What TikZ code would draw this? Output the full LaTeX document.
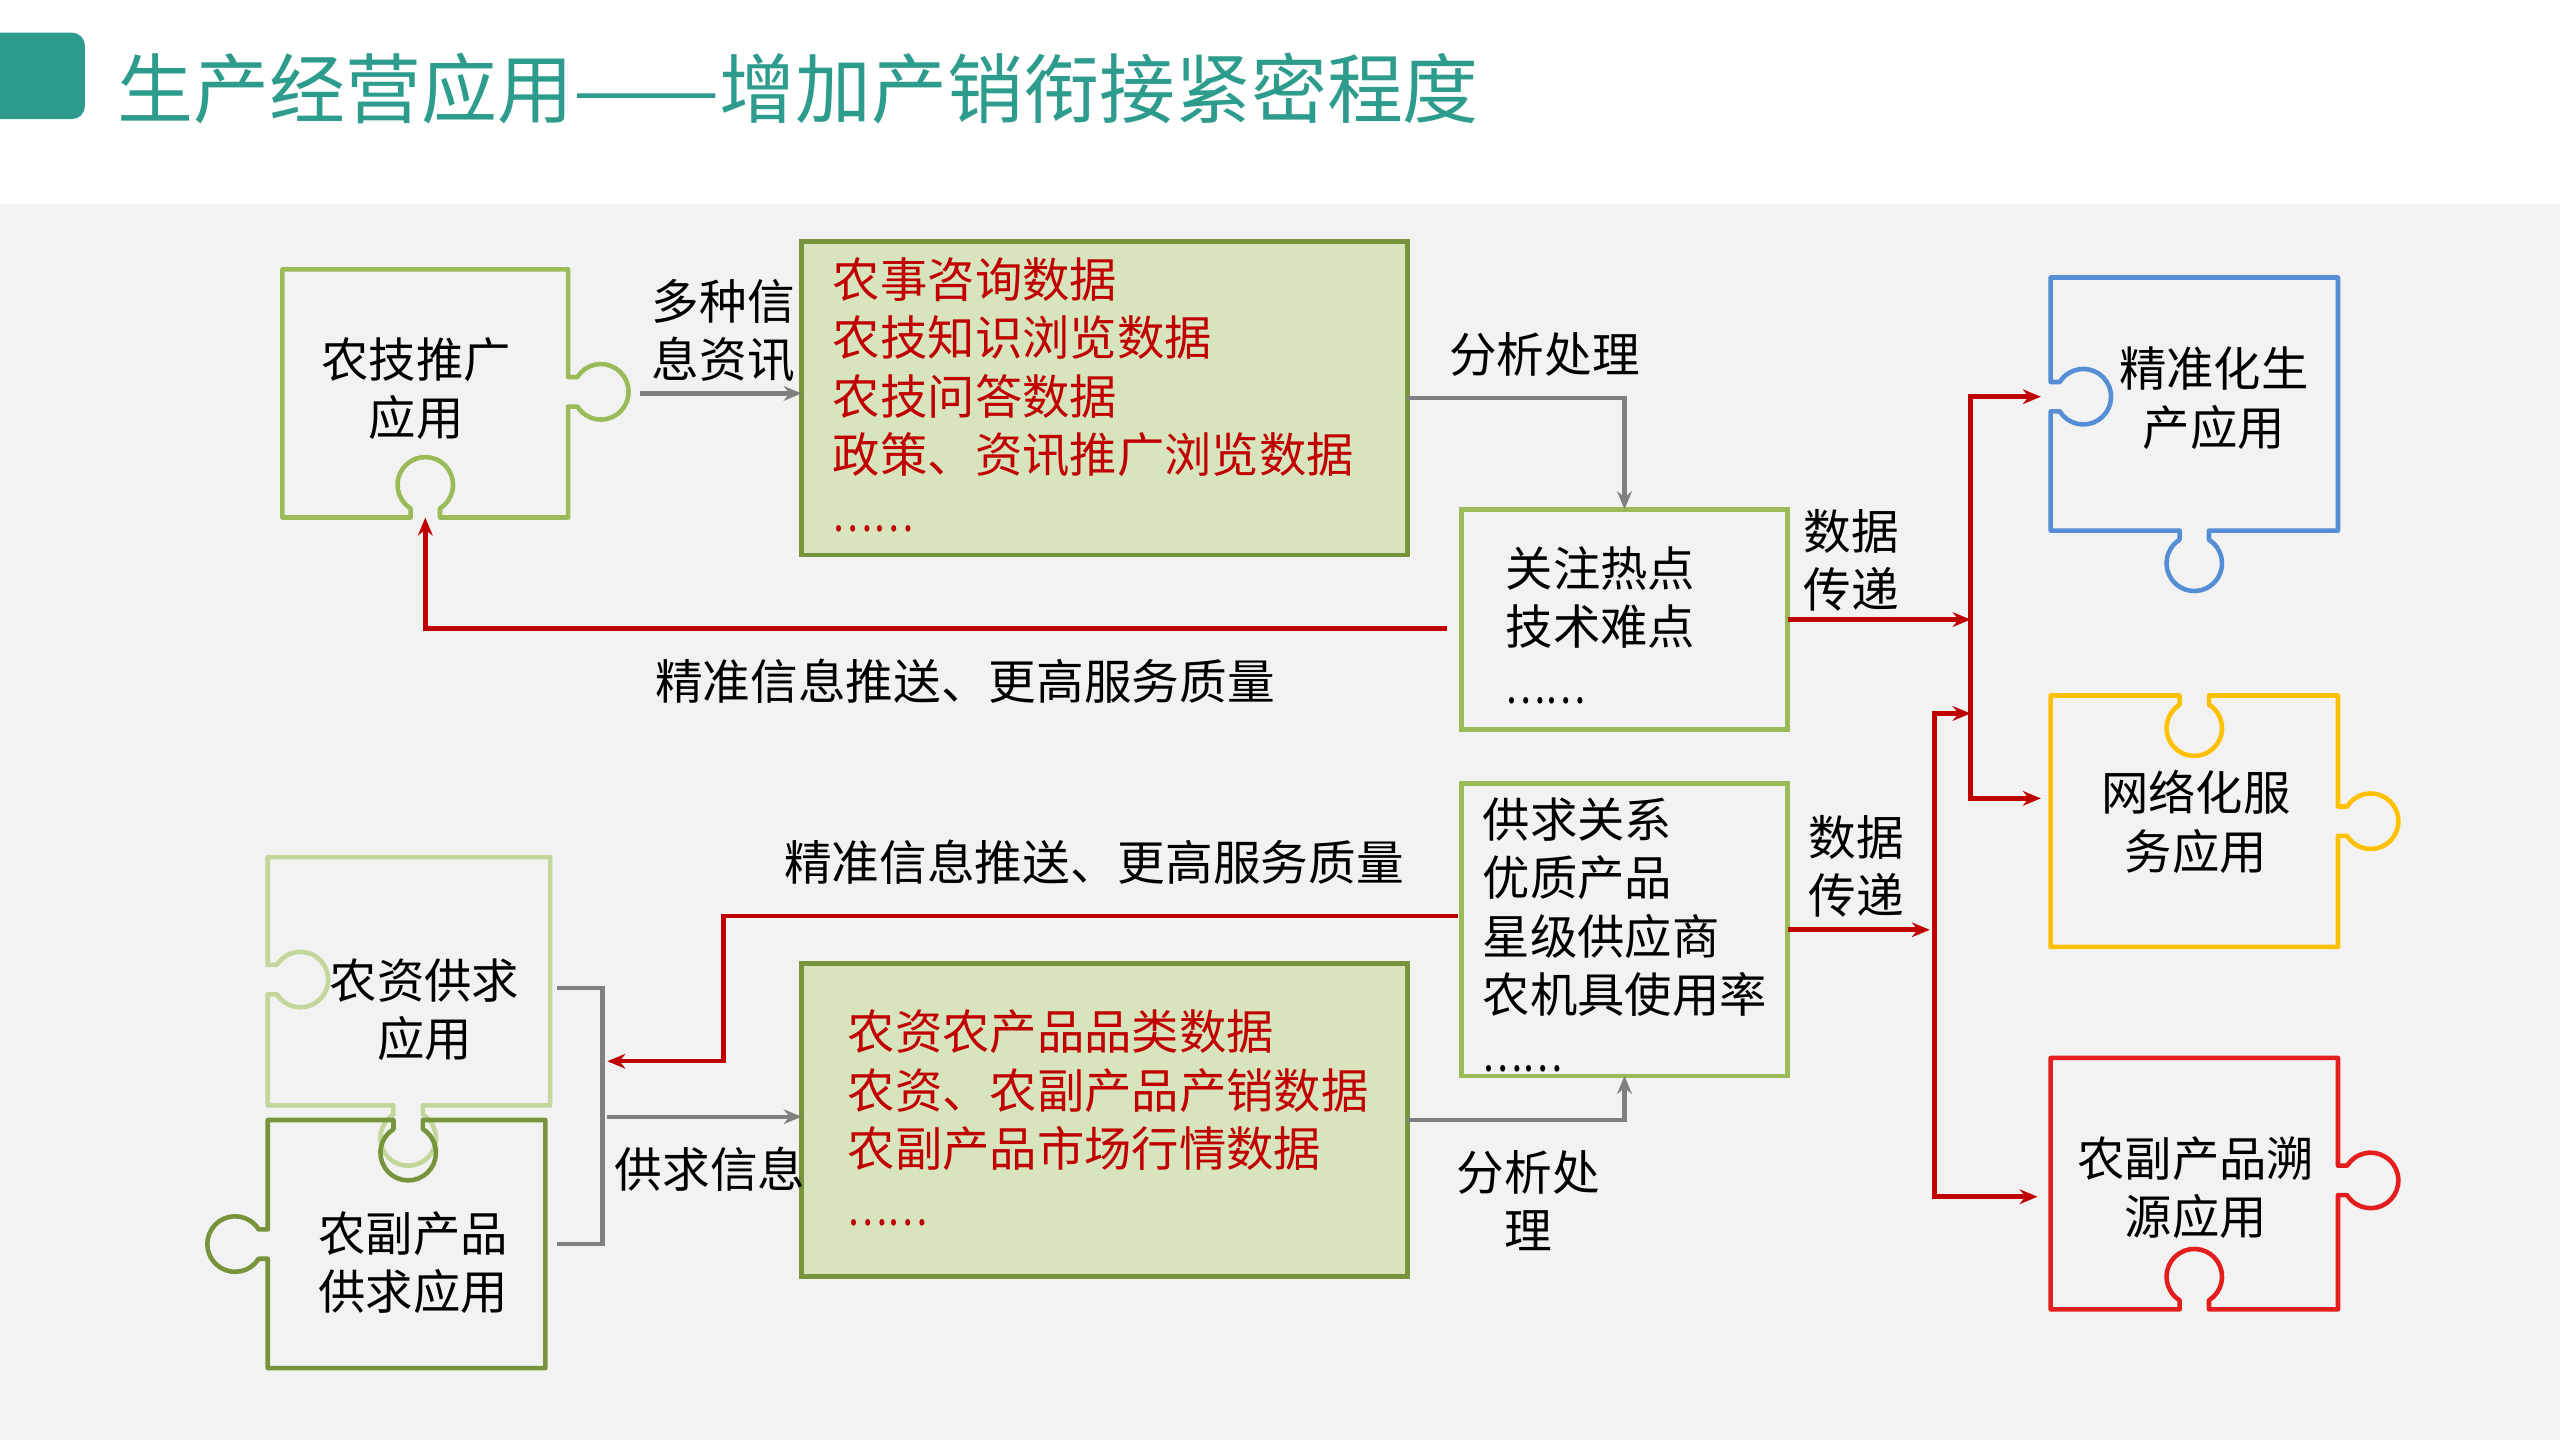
\documentclass[tikz,border=0pt]{standalone}
\usepackage{fontspec}
\newfontfamily\cjk{Noto Sans CJK SC}
\usetikzlibrary{arrows.meta,calc}
\definecolor{teal1}{HTML}{2E9C8C}
\definecolor{bg}{HTML}{F2F2F2}
\definecolor{grn}{HTML}{9BBB59}
\definecolor{dgrn}{HTML}{77933C}
\definecolor{lgrn}{HTML}{C3D69B}
\definecolor{boxfill}{HTML}{D7E4BD}
\definecolor{dred}{HTML}{C00000}
\definecolor{bred}{HTML}{E41E1E}
\definecolor{blu}{HTML}{558ED5}
\definecolor{yel}{HTML}{FFC000}
\definecolor{gry}{HTML}{808080}
\newcommand{\dotsln}{\scalebox{0.8}[1]{……}}
\tikzset{
  tabout/.style n args={3}{insert path={-- ($(#1,#2)+(#3+90:9pt)$) -- ++(#3:5.6pt) arc[start angle=#3+148, end angle=#3-148, radius=17pt] -- ++(#3+180:5.6pt)}},
  tabin/.style n args={3}{insert path={-- ($(#1,#2)+(#3+90:9pt)$) -- ++(#3+180:5.6pt) arc[start angle=#3+32, end angle=#3+328, radius=17pt] -- ++(#3:5.6pt)}},
  puz/.style={line width=2.8pt, line join=round},
  body/.style={inner sep=0pt, outer sep=0pt},
  ptext/.style={font=\cjk\fontsize{29}{35.8}\selectfont, align=center, inner sep=0pt},
  btext/.style={font=\cjk\fontsize{29}{35.8}\selectfont, align=left, inner sep=0pt, anchor=north west},
  lbl/.style={font=\cjk\fontsize{29.2}{35.5}\selectfont, align=center, inner sep=0pt},
  databox/.style={draw=dgrn, fill=boxfill, line width=2.8pt, inner sep=0pt, outer sep=0pt},
  outbox/.style={draw=grn, line width=2.8pt, inner sep=0pt, outer sep=0pt},
  garr/.style={draw=gry, line width=2.6pt, -{Stealth[length=11pt,width=9pt]}},
  gline/.style={draw=gry, line width=2.6pt},
  rarr/.style={draw=dred, line width=2.8pt, -{Stealth[length=11pt,width=9pt]}},
  rarr2/.style={draw=dred, line width=2.8pt, {Stealth[length=11pt,width=9pt]}-{Stealth[length=11pt,width=9pt]}},
}
\begin{document}
\begin{tikzpicture}[x=1pt,y=1pt]
\useasboundingbox (0,0) rectangle (1568,882);
\fill[white] (0,0) rectangle (1568,882);
\fill[bg] (0,0) rectangle (1568,757);
\fill[teal1, rounded corners=8pt] (-12,809) rectangle (52,862);
\node[anchor=west, inner sep=0pt, font=\cjk\fontsize{46.5}{50}\selectfont, text=teal1] (title) at (72,828) {生产经营应用\scalebox{1.15}[1]{——}增加产销衔接紧密程度};

% puzzle 1
\draw[puz, draw=grn] (173,717) -- (348,717) [tabout={348}{642}{0}] -- (348,565) [tabin={260.5}{565}{-90}] -- (173,565) -- cycle;
\node[body, minimum width=175pt, minimum height=152pt] (p1) at (260.5,641) {};
\node[ptext] (p1t) at (255,644) {农技推广\\应用};

% blue
\draw[puz, draw=blu] (1256,712) -- (1432,712) -- (1432,557) [tabout={1344}{557}{-90}] -- (1256,557) [tabin={1256}{639}{180}] -- cycle;
\node[body, minimum width=176pt, minimum height=155pt] (bluep) at (1344,634.5) {};
\node[ptext] (bluet) at (1356,638) {精准化生\\产应用};

% yellow
\draw[puz, draw=yel] (1256,456) [tabin={1344}{456}{90}] -- (1432,456) [tabout={1432}{379}{0}] -- (1432,302) -- (1256,302) -- cycle;
\node[body, minimum width=176pt, minimum height=154pt] (yelp) at (1344,379) {};
\node[ptext] (yelt) at (1345,378.5) {网络化服\\务应用};

% red
\draw[puz, draw=bred] (1256,234) -- (1432,234) [tabout={1432}{159}{0}] -- (1432,80) [tabin={1344}{80}{-90}] -- (1256,80) -- cycle;
\node[body, minimum width=176pt, minimum height=154pt] (redp) at (1344,157) {};
\node[ptext] (redt) at (1345,154.5) {农副产品溯\\源应用};

% puzzle 3
\draw[puz, draw=lgrn] (164,357) -- (337,357) -- (337,205) [tabout={250}{205}{-90}] -- (164,205) [tabin={164}{282}{180}] -- cycle;
\node[body, minimum width=173pt, minimum height=152pt] (p3) at (250.5,281) {};
\node[ptext] (p3t) at (260,263.5) {农资供求\\应用};

% puzzle 4
\draw[puz, draw=dgrn] (164,196) [tabin={250}{196}{90}] -- (334,196) -- (334,44) -- (164,44) [tabout={164}{120}{180}] -- cycle;
\node[body, minimum width=170pt, minimum height=152pt] (p4) at (249,120) {};
\node[ptext] (p4t) at (253,108.5) {农副产品\\供求应用};

% boxes
\node[databox, minimum width=371pt, minimum height=192pt] (box1) at (676.5,638) {};
\node[btext, text=dred] (box1t) at (510,724.5) {农事咨询数据\\农技知识浏览数据\\农技问答数据\\政策、资讯推广浏览数据\\\dotsln};
\node[databox, minimum width=371pt, minimum height=192pt] (box2) at (676.5,196) {};
\node[btext, text=dred] (box2t) at (519,263.5) {农资农产品品类数据\\农资、农副产品产销数据\\农副产品市场行情数据\\\dotsln};
\node[outbox, minimum width=200pt, minimum height=135pt] (hot) at (995,502.5) {};
\node[btext] (hott) at (922,547.5) {关注热点\\技术难点\\\dotsln};
\node[outbox, minimum width=200pt, minimum height=179pt] (box3) at (995,312.5) {};
\node[btext] (box3t) at (908,393.5) {供求关系\\优质产品\\星级供应商\\农机具使用率\\\dotsln};

% coordinates
\coordinate (p1tab) at (392,641);
\coordinate (aTop) at (1207,639);
\coordinate (aBot) at (1207,393);
\coordinate (bTop) at (1185,445);
\coordinate (bBot) at (1185,149);
\coordinate (rl1) at (443,232);
\coordinate (rl2) at (372,232);
\coordinate (brTop) at (341,277);
\coordinate (brBot) at (341,120);
\coordinate (sup) at (372,198);

% connectors
\draw[garr] (p1tab) -- (p1tab -| box1.west);
\draw[garr] (box1.east) -| (hot.north);
\draw[rarr, shorten <=9pt] ([yshift=-5.5pt]hot.west) -| (p1.south);
\draw[rarr] (hot.east) -- (hot.east -| aTop);
\draw[rarr2, shorten <=6pt, shorten >=6pt] (aTop -| bluep.west) -- (aTop) -- (aBot) -- (aBot -| yelp.west);
\draw[rarr2, shorten >=8pt] (bTop -| aTop) -- (bTop) -- (bBot) -- (bBot -| redp.west);
\draw[rarr, shorten >=3pt] (box3.east) -- (box3.east -| bTop);
\draw[rarr, shorten <=2pt] ([yshift=8.5pt]box3.west) -| (rl1) -- (rl2);
\draw[gline] (brTop) -- ++(28,0) |- (brBot);
\draw[garr] (sup) -- (sup -| box2.west);
\draw[garr] (box2.east) -| (box3.south);

% labels
\node[lbl] (l1) at (443,679.5) {多种信\\息资讯};
\node[lbl] (l2) at (946,665) {分析处理};
\node[lbl] (l3) at (591,465) {精准信息推送、更高服务质量};
\node[lbl] (l4) at (1134,538.5) {数据\\传递};
\node[lbl] (l5) at (670,354) {精准信息推送、更高服务质量};
\node[lbl] (l6) at (1137,351.5) {数据\\传递};
\node[lbl] (l7) at (435,166) {供求信息};
\node[lbl] (l8) at (936,146.5) {分析处\\理};
\end{tikzpicture}
\end{document}
